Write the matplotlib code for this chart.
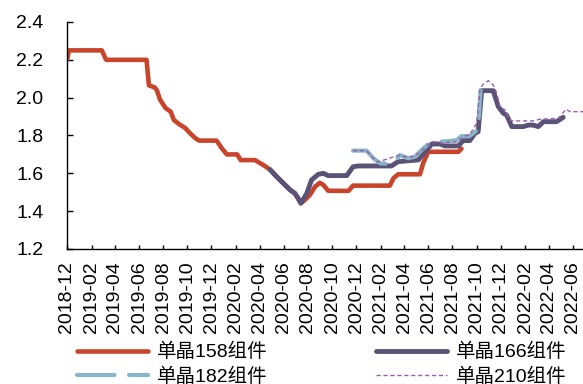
import matplotlib
matplotlib.use("Agg")
import matplotlib.pyplot as plt
import pandas as pd

plt.rcParams['font.family'] = ['Liberation Sans', 'Noto Sans CJK SC', 'DejaVu Sans']
plt.rcParams['axes.unicode_minus'] = False

# 单晶组件价格（元/W）
dates_158 = ["2018-12-01", "2018-12-06", "2019-02-27", "2019-03-10", "2019-06-20",
             "2019-06-26", "2019-07-10", "2019-07-16", "2019-07-24", "2019-08-07",
             "2019-08-20", "2019-08-28", "2019-09-13", "2019-09-25", "2019-10-08",
             "2019-10-20", "2019-10-31", "2019-12-14", "2019-12-27", "2020-01-09",
             "2020-02-04", "2020-02-13", "2020-03-20", "2020-04-10", "2020-04-27",
             "2020-05-14", "2020-05-31", "2020-06-17", "2020-06-29", "2020-07-07",
             "2020-07-14", "2020-07-24", "2020-08-06", "2020-08-19", "2020-08-31",
             "2020-09-09", "2020-09-21", "2020-11-11", "2020-11-23", "2021-02-24",
             "2021-03-05", "2021-03-17", "2021-05-11", "2021-05-19", "2021-06-01",
             "2021-08-16", "2021-08-24"]
price_158 = [2.20, 2.25, 2.25, 2.20, 2.20,
             2.065, 2.055, 2.04, 1.99, 1.945,
             1.926, 1.882, 1.856, 1.841, 1.812,
             1.788, 1.773, 1.773, 1.733, 1.70,
             1.70, 1.67, 1.67, 1.644, 1.62,
             1.582, 1.547, 1.512, 1.494, 1.468,
             1.442, 1.459, 1.486, 1.53, 1.55,
             1.538, 1.508, 1.507, 1.535, 1.535,
             1.574, 1.595, 1.595, 1.653, 1.714,
             1.714, 1.73]

dates_166 = ["2020-04-27", "2020-05-14", "2020-05-31", "2020-06-17", "2020-06-29",
             "2020-07-07", "2020-07-14", "2020-07-29", "2020-08-10", "2020-08-27",
             "2020-09-09", "2020-09-21", "2020-11-07", "2020-11-23", "2020-12-06",
             "2021-02-28", "2021-03-17", "2021-05-07", "2021-05-28", "2021-06-10",
             "2021-07-01", "2021-07-13", "2021-08-16", "2021-08-28", "2021-09-14",
             "2021-09-27", "2021-10-05", "2021-10-14", "2021-11-12", "2021-11-25",
             "2021-12-08", "2021-12-16", "2021-12-29", "2022-01-27", "2022-02-09",
             "2022-02-21", "2022-03-06", "2022-03-19", "2022-04-21", "2022-05-08"]
price_166 = [1.62, 1.582, 1.547, 1.512, 1.494,
             1.468, 1.442, 1.494, 1.565, 1.595,
             1.60, 1.588, 1.588, 1.635, 1.639,
             1.639, 1.662, 1.671, 1.723, 1.755,
             1.755, 1.745, 1.745, 1.773, 1.773,
             1.812, 1.82, 2.037, 2.037, 1.952,
             1.917, 1.908, 1.847, 1.847, 1.855,
             1.855, 1.847, 1.873, 1.873, 1.896]

dates_182 = ["2020-11-23", "2020-12-27", "2021-01-13", "2021-01-30", "2021-02-20",
             "2021-03-05", "2021-03-21", "2021-04-11", "2021-04-28", "2021-05-15",
             "2021-06-05", "2021-06-22", "2021-07-26", "2021-08-12", "2021-08-24",
             "2021-09-14", "2021-09-27", "2021-10-05", "2021-10-11"]
price_182 = [1.72, 1.72, 1.68, 1.653, 1.65,
             1.653, 1.697, 1.68, 1.688, 1.723,
             1.762, 1.767, 1.771, 1.776, 1.797,
             1.797, 1.82, 1.83, 2.04]

dates_210 = ["2020-11-23", "2020-12-27", "2021-01-13", "2021-01-25", "2021-03-17",
             "2021-04-11", "2021-04-28", "2021-05-15", "2021-06-10", "2021-07-09",
             "2021-08-12", "2021-08-28", "2021-09-14", "2021-10-01", "2021-10-10",
             "2021-10-18", "2021-10-31", "2021-11-12", "2021-11-21", "2021-11-29",
             "2021-12-12", "2021-12-24", "2022-01-02", "2022-02-21", "2022-03-10",
             "2022-04-26", "2022-05-15", "2022-05-25", "2022-06-30"]
price_210 = [1.72, 1.72, 1.68, 1.66, 1.695,
             1.685, 1.69, 1.72, 1.767, 1.762,
             1.767, 1.794, 1.805, 1.864, 2.05,
             2.072, 2.09, 2.067, 2.023, 1.952,
             1.935, 1.882, 1.877, 1.877, 1.886,
             1.891, 1.939, 1.926, 1.926]

labels = ["单晶158组件", "单晶166组件", "单晶182组件", "单晶210组件"]
y_ticks = [1.2, 1.4, 1.6, 1.8, 2.0, 2.2, 2.4]

fig = plt.figure(figsize=(5.83, 3.84), dpi=100)
ax = fig.add_axes([67 / 583, 1 - 249 / 384, 1 - 67 / 583, 227 / 384])

l158, = ax.plot(pd.to_datetime(dates_158), price_158, color="#C8442A", lw=3.3,
                solid_capstyle="round", solid_joinstyle="round", zorder=2)
l166, = ax.plot(pd.to_datetime(dates_166), price_166, color="#5A5277", lw=3.5,
                solid_capstyle="round", solid_joinstyle="round", zorder=3)
l182, = ax.plot(pd.to_datetime(dates_182), price_182, color="#88B6C9", lw=3.0,
                dashes=(9, 3.5), dash_capstyle="round", zorder=4)
l210, = ax.plot(pd.to_datetime(dates_210), price_210, color="#9A5DA8", lw=1.0,
                dashes=(3, 2), zorder=5)

ax.set_ylim(1.2, 2.4)
ax.set_yticks(y_ticks)
ax.set_yticklabels([f"{v:.1f}" for v in y_ticks])
ax.set_xlim(pd.Timestamp("2018-12-01"), pd.Timestamp("2022-06-27"))
xt = pd.date_range("2018-12-01", "2022-06-01", freq="2MS")
ax.set_xticks(xt)
ax.set_xticklabels([d.strftime("%Y-%m") for d in xt], rotation=90)

for s in ("top", "right"):
    ax.spines[s].set_visible(False)
for s in ("left", "bottom"):
    ax.spines[s].set_linewidth(1.0)
    ax.spines[s].set_color("black")
ax.tick_params(axis="y", direction="in", length=4, width=1, pad=17, labelsize=14)
ax.tick_params(axis="x", direction="in", length=3, width=1, pad=9, labelsize=14)

fig.legend([l158, l182, l166, l210],
           [labels[0], labels[2], labels[1], labels[3]],
           ncol=2, loc="upper left", bbox_to_anchor=(77 / 583, 1 - 343 / 384),
           frameon=False, fontsize=14, borderpad=0, borderaxespad=0,
           handlelength=3.65, handletextpad=0.45, columnspacing=5.6,
           labelspacing=0.32)

fig.savefig("out.png", dpi=100)
